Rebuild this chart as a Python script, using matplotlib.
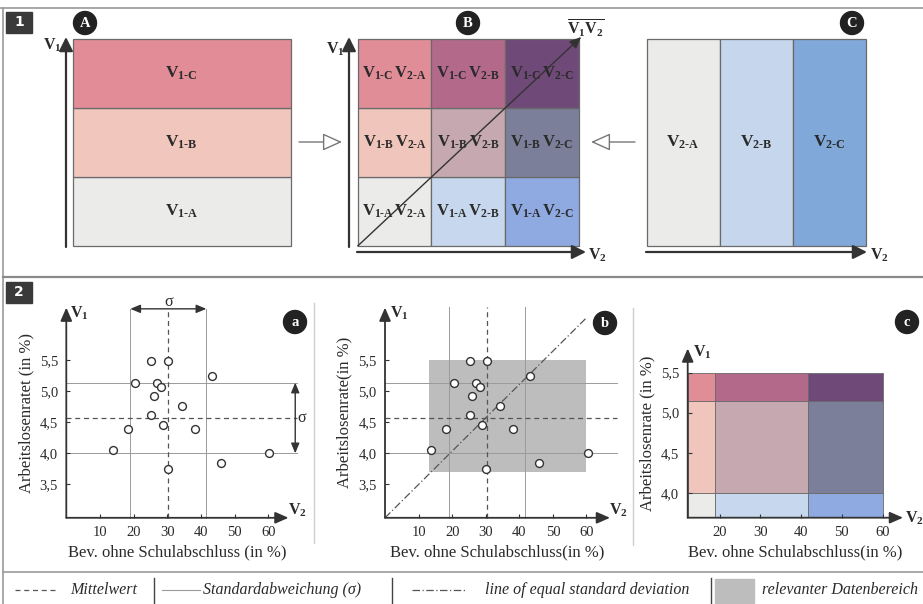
import numpy as np
import matplotlib; matplotlib.use('Agg')
import matplotlib.pyplot as plt
from matplotlib.patches import Circle, Rectangle, FancyArrowPatch
from matplotlib import rcParams

rcParams['font.family'] = 'Liberation Serif'
rcParams['mathtext.fontset'] = 'custom'
rcParams['mathtext.rm'] = 'Liberation Serif'
rcParams['mathtext.bf'] = 'Liberation Serif:bold'
rcParams['mathtext.it'] = 'Liberation Serif:italic'

# ---- data ----
v1_classes = ['A', 'B', 'C']            # V1 classes, bottom -> top
v2_classes = ['A', 'B', 'C']            # V2 classes, left -> right
col_v1 = ['#ebebea', '#f1c6bd', '#e28c97']
col_v2 = ['#ebebea', '#c6d6ec', '#80a8d8']
col_biv = [['#ebebea', '#c7d7ee', '#8eaae0'],   # row V1-A
           ['#f0c5bc', '#c6a9b0', '#7b7f9a'],   # row V1-B
           ['#e08d98', '#b2698a', '#6f4a78']]   # row V1-C

v2 = [13.8, 18.2, 20.4, 25.2, 25.2, 26.0, 27.0, 28.2, 28.8, 30.3, 30.1, 34.3, 38.2, 43.2, 45.9, 60.3]
v1 = [4.05, 4.40, 5.13, 5.49, 4.61, 4.92, 5.13, 5.07, 4.46, 5.49, 3.74, 4.77, 4.39, 5.24, 3.85, 4.00]
mean_v2, sd_v2 = 30.3, 11.3
mean_v1, sd_v1 = 4.57, 0.57
range_v2 = (13.0, 60.0)
range_v1 = (3.7, 5.5)
xticks_ab = [10, 20, 30, 40, 50, 60]
xticks_c = [20, 30, 40, 50, 60]
yticks_ab = [3.5, 4.0, 4.5, 5.0, 5.5]
yticks_c = [4.0, 4.5, 5.0, 5.5]

W, H = 923, 604
fig = plt.figure(figsize=(W/100, H/100), dpi=100)
TXT = '#2a2a2a'
EDGE = '#6a6a6a'

def px_axes(x0, y0, x1, y1):
    return fig.add_axes([x0/W, 1-y1/H, (x1-x0)/W, (y1-y0)/H])

def vlab(num, cls):
    return r'\mathbf{V}_{\mathbf{%s}\text{-}\mathbf{%s}}' % (num, cls)

# overlay in pixel coordinates
ov = fig.add_axes([0, 0, 1, 1], zorder=5)
ov.set_xlim(0, W); ov.set_ylim(H, 0); ov.axis('off')

def arrow(x0, y0, x1, y1, lw=1.6, col='#333333', hw=0.35, hl=0.7):
    ov.add_patch(FancyArrowPatch((x0, y0), (x1, y1), arrowstyle=f'-|>,head_length={hl},head_width={hw}',
                                 mutation_scale=12, lw=lw, color=col, shrinkA=0, shrinkB=0))

def hollow(x0, y0, x1, y1):
    ov.add_patch(FancyArrowPatch((x0, y0), (x1, y1), arrowstyle='-|>,head_length=1.0,head_width=0.45',
                                 mutation_scale=12, lw=1.0, ec='#777777', fc='white', shrinkA=0, shrinkB=0))

def badge(x, y, s):
    ov.add_patch(Circle((x, y), 11.5, color='#222222'))
    ov.text(x, y+0.5, s, color='white', fontsize=10.5, fontweight='bold', ha='center', va='center')

def vtxt(x, y, n, fs=11.5, ha='left'):
    ov.text(x, y, r'$\mathbf{V}_\mathbf{%s}$' % n, fontsize=fs, color=TXT, ha=ha, va='center')

# frame lines
ov.plot([0, W], [8, 8], color='#9a9a9a', lw=1.2)
ov.plot([3, 3], [8, H], color='#9a9a9a', lw=1.2)
ov.plot([3, W], [277, 277], color='#8a8a8a', lw=1.6)
ov.plot([3, W], [572, 572], color='#9a9a9a', lw=1.2)
for lab, y in [('1', 12), ('2', 282)]:
    ov.add_patch(Rectangle((6, y), 26, 21, color='#3a3a3a'))
    ov.text(19, y+10.5, lab, color='white', fontsize=10, fontweight='bold', family='DejaVu Sans', ha='center', va='center')

# ---- section 1 ----
axA = px_axes(72.7, 39, 290.7, 246)
axA.barh(range(3), 1, height=1, left=0, align='edge', color=col_v1, edgecolor=EDGE, lw=0.9, clip_on=False)
for i, c in enumerate(v1_classes):
    axA.text(0.5, i+0.5, '$' + vlab('1', c) + '$', fontsize=12.5, color=TXT, ha='center', va='center')
axA.set_xlim(0, 1); axA.set_ylim(0, 3); axA.axis('off')
arrow(66, 247, 66, 37)
vtxt(43, 45, '1')
badge(85, 23, 'A')

axB = px_axes(357.7, 39, 579, 246)
for i in range(3):
    axB.bar(range(3), 1, width=1, bottom=i, align='edge', color=col_biv[i], edgecolor=EDGE, lw=0.9, clip_on=False)
    for j in range(3):
        axB.text(j+0.5, i+0.5, '$' + vlab('1', v1_classes[i]) + r'\,' + vlab('2', v2_classes[j]) + '$',
                 fontsize=12, color=TXT, ha='center', va='center')
axB.set_xlim(0, 3); axB.set_ylim(0, 3); axB.axis('off')
axB.annotate('', xy=(3.03, 3.03), xytext=(0, 0), annotation_clip=False,
             arrowprops=dict(arrowstyle='-|>,head_length=0.7,head_width=0.3', color='#333333', lw=1.0, shrinkA=0, shrinkB=0))
arrow(349, 247, 349, 37)
arrow(357, 252, 586, 252)
vtxt(326, 49, '1')
vtxt(588, 255, '2')
ov.text(586, 28, r'$\overline{\mathbf{V}_\mathbf{1}\mathbf{V}_\mathbf{2}}$', fontsize=11.5, color=TXT, ha='center', va='center')
badge(468, 23, 'B')
hollow(299, 142, 342, 142)
hollow(635, 142, 591, 142)

axC = px_axes(646.7, 39, 865.7, 246)
axC.bar(range(3), 3, width=1, bottom=0, align='edge', color=col_v2, edgecolor=EDGE, lw=0.9, clip_on=False)
for j, c in enumerate(v2_classes):
    axC.text(j+0.5, 1.5, '$' + vlab('2', c) + '$', fontsize=12.5, color=TXT, ha='center', va='center')
axC.set_xlim(0, 3); axC.set_ylim(0, 3); axC.axis('off')
arrow(646, 252, 867, 252)
vtxt(870, 255, '2')
badge(852, 23, 'C')

# ---- section 2 ----
def style_axes(ax, xt, yt, ylabel, xlabel):
    for s in ax.spines.values():
        s.set_visible(False)
    ax.patch.set_alpha(0)
    ax.set_xticks(xt); ax.set_xticklabels([str(v) for v in xt])
    ax.set_yticks(yt); ax.set_yticklabels([f'{v:.1f}'.replace('.', ',') for v in yt])
    ax.tick_params(direction='in', length=3, width=0.8, color='#333333', labelsize=10.5, labelcolor=TXT, pad=6)
    ax.set_ylabel(ylabel, fontsize=12, color=TXT, labelpad=4)
    ax.set_xlabel(xlabel, fontsize=12, color=TXT, labelpad=4)
    for xy in [(0, 1.0), (1.0, 0)]:
        ax.annotate('', xy=xy, xytext=(0, 0), xycoords='axes fraction', textcoords='axes fraction',
                    arrowprops=dict(arrowstyle='-|>,head_length=0.8,head_width=0.35', color='#333333', lw=1.3,
                                    shrinkA=0, shrinkB=0))

def sd_lines(ax, vtop, hright):
    kw_sd = dict(color='#9a9a9a', lw=0.7, clip_on=False, zorder=1)
    kw_mn = dict(color='#555555', lw=0.9, ls=(0, (4, 3)), clip_on=False, zorder=1)
    for x in (mean_v2 - sd_v2, mean_v2 + sd_v2):
        ax.plot([x, x], [ax.get_ylim()[0], vtop], **kw_sd)
    for y in (mean_v1 - sd_v1, mean_v1 + sd_v1):
        ax.plot([0, hright], [y, y], **kw_sd)
    ax.plot([mean_v2, mean_v2], [ax.get_ylim()[0], vtop], **kw_mn)
    ax.plot([0, hright], [mean_v1, mean_v1], **kw_mn)

# panel a
axa = px_axes(66.3, 307.6, 288.5, 517.8)
axa.set_xlim(0, 66); axa.set_ylim(2.96, 6.35)
style_axes(axa, xticks_ab, yticks_ab, 'Arbeitslosenratet (in %)', 'Bev. ohne Schulabschluss (in %)')
sd_lines(axa, 6.33, 68.5)
axa.scatter(v2, v1, s=32, facecolor='white', edgecolor='#333333', lw=1.0, zorder=3)
axa.annotate('', xy=(mean_v2 - sd_v2, 6.33), xytext=(mean_v2 + sd_v2, 6.33), annotation_clip=False,
             arrowprops=dict(arrowstyle='<|-|>,head_length=0.6,head_width=0.25', color='#333333', lw=1.0, shrinkA=0, shrinkB=0))
axa.annotate('', xy=(68, mean_v1 - sd_v1), xytext=(68, mean_v1 + sd_v1), annotation_clip=False,
             arrowprops=dict(arrowstyle='<|-|>,head_length=0.6,head_width=0.25', color='#333333', lw=1.0, shrinkA=0, shrinkB=0))
axa.text(mean_v2, 6.44, 'σ', fontsize=11.5, color=TXT, ha='center', va='center')
axa.text(69.9, mean_v1, 'σ', fontsize=11.5, color=TXT, ha='center', va='center')
vtxt(70, 313, '1')
vtxt(288, 510, '2')
badge(295, 322, 'a')

# panel b
axb = px_axes(385, 307.6, 610, 517.8)
axb.set_xlim(0, 67); axb.set_ylim(2.96, 6.35)
style_axes(axb, xticks_ab, yticks_ab, 'Arbeitslosenrate(in %)', 'Bev. ohne Schulabschluss(in %)')
axb.bar(range_v2[0], range_v1[1] - range_v1[0], width=range_v2[1] - range_v2[0], bottom=range_v1[0],
        align='edge', color='#bdbdbd', zorder=0)
sd_lines(axb, 6.36, 69)
axb.plot([0, 59.7], [2.96, 6.17], color='#555555', lw=0.9, ls=(0, (6, 2, 1, 2)), zorder=2)
axb.scatter(v2, v1, s=32, facecolor='white', edgecolor='#333333', lw=1.0, zorder=3)
vtxt(390, 313, '1')
vtxt(609, 510, '2')
badge(605, 323, 'b')

# panel c
axc = px_axes(687.7, 348.5, 903, 517.7)
axc.set_xlim(12.2, 65); axc.set_ylim(3.69, 5.8)
style_axes(axc, xticks_c, yticks_c, 'Arbeitslosenrate (in %)', 'Bev. ohne Schulabschluss(in %)')
xe = [12.2, mean_v2 - sd_v2, mean_v2 + sd_v2, range_v2[1]]
ye = [3.69, mean_v1 - sd_v1, mean_v1 + sd_v1, range_v1[1]]
for i in range(3):
    axc.bar(xe[:-1], ye[i+1] - ye[i], width=np.diff(xe), bottom=ye[i], align='edge',
            color=col_biv[i], edgecolor=EDGE, lw=0.6, zorder=0)
vtxt(693, 352, '1')
vtxt(905, 518, '2')
badge(907, 322, 'c')

# separators
ov.plot([314, 314], [303, 543], color='#cfcfcf', lw=1.0)
ov.plot([633, 633], [308, 545], color='#cfcfcf', lw=1.0)

# legend row
ly = 590
ov.plot([15, 56], [ly, ly], color='#555555', lw=0.9, ls=(0, (4, 3)))
ov.text(70, ly, 'Mittelwert', fontsize=11.5, style='italic', color=TXT, va='center')
ov.plot([154, 154], [578, 604], color='#444444', lw=1.0)
ov.plot([162, 200], [ly, ly], color='#9a9a9a', lw=0.8)
ov.text(203, ly, 'Standardabweichung (σ)', fontsize=11.5, style='italic', color=TXT, va='center')
ov.plot([392, 392], [578, 604], color='#444444', lw=1.0)
ov.plot([412, 465], [ly, ly], color='#555555', lw=0.9, ls=(0, (6, 2, 1, 2)))
ov.text(485, ly, 'line of equal standard deviation', fontsize=11.5, style='italic', color=TXT, va='center')
ov.plot([711, 711], [578, 604], color='#444444', lw=1.0)
ov.add_patch(Rectangle((715, 579), 39, 24, color='#bdbdbd'))
ov.text(762, ly, 'relevanter Datenbereich', fontsize=11.5, style='italic', color=TXT, va='center')

fig.savefig('out.png', dpi=100)
